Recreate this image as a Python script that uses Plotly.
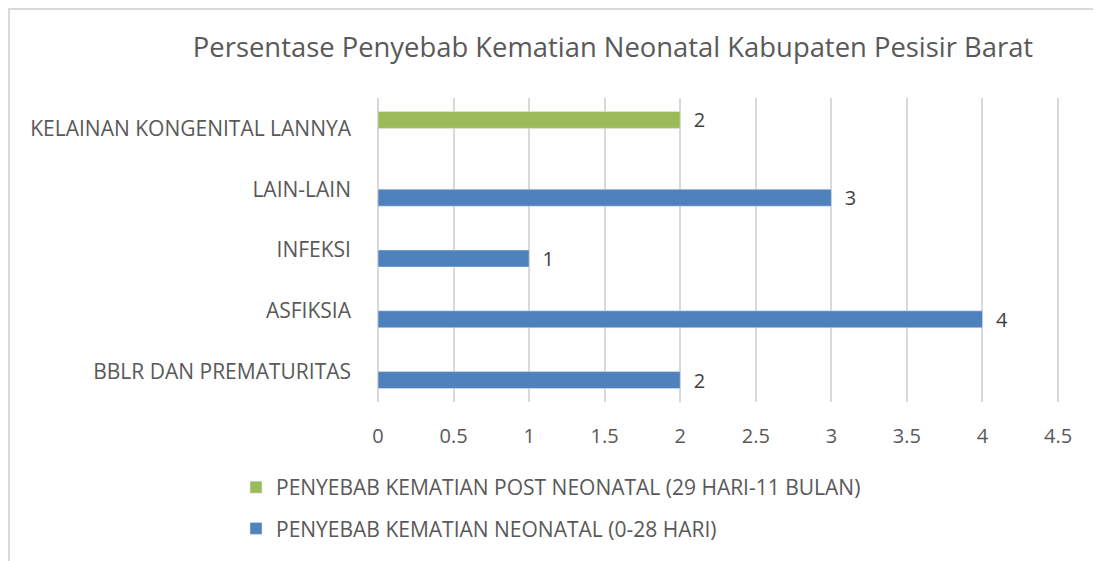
import plotly.graph_objects as go

categories = ["BBLR DAN PREMATURITAS", "ASFIKSIA", "INFEKSI", "LAIN-LAIN", "KELAINAN KONGENITAL LANNYA"]
neonatal = [2, 4, 1, 3, None]
post_neonatal = [None, None, None, None, 2]
series_names = ["PENYEBAB KEMATIAN NEONATAL (0-28 HARI)",
                "PENYEBAB KEMATIAN POST NEONATAL (29 HARI-11 BULAN)"]
x_ticks = [0, 0.5, 1, 1.5, 2, 2.5, 3, 3.5, 4, 4.5]
x_tick_labels = ["0", "0.5", "1", "1.5", "2", "2.5", "3", "3.5", "4", "4.5"]
title_text = "Persentase Penyebab Kematian Neonatal Kabupaten Pesisir Barat"

FONT = "Open Sans"
W, H = 1093, 553          # page body has an 8px margin
ML, MR, MT, MB = 370, 41, 90, 159
PW, PH = W - ML - MR, H - MT - MB

fig = go.Figure()
fig.add_trace(go.Bar(
    y=categories, x=neonatal, orientation="h", name=series_names[0],
    marker=dict(color="#4f81bd"), legendgroup="a", legendrank=2,
    texttemplate="  %{x}", textposition="outside", constraintext="none",
    textfont=dict(family=FONT, size=20, color="#404040"), cliponaxis=False,
))
fig.add_trace(go.Bar(
    y=categories, x=post_neonatal, orientation="h", name=series_names[1],
    marker=dict(color="#9bbb59"), legendgroup="b", legendrank=1,
    texttemplate="  %{x}", textposition="outside", constraintext="none",
    textfont=dict(family=FONT, size=20, color="#404040"), cliponaxis=False,
))

fig.update_layout(
    width=W, height=H,
    paper_bgcolor="white", plot_bgcolor="white",
    margin=dict(l=ML, r=MR, t=MT, b=MB, autoexpand=False),
    barmode="group", bargap=0.44, bargroupgap=0,
    font=dict(family=FONT, color="#595959"),
    title=dict(text=title_text, x=605 / W, xanchor="center", y=1 - 39 / H, yanchor="middle",
               font=dict(family=FONT, size=27.4, color="#595959")),
    xaxis=dict(range=[0, 4.513], tickvals=x_ticks, ticktext=x_tick_labels,
               showgrid=True, gridcolor="#d9d9d9", gridwidth=2,
               zeroline=True, zerolinecolor="#d9d9d9", zerolinewidth=2,
               showline=False, ticks="", ticklabelstandoff=20, automargin=False,
               tickfont=dict(family=FONT, size=20, color="#595959")),
    yaxis=dict(categoryorder="array", categoryarray=categories, showgrid=False,
               zeroline=False, showline=False, ticks="", ticklabelstandoff=26, automargin=False,
               tickfont=dict(family=FONT, size=21, color="#595959")),
    legend=dict(orientation="v", x=(228 - ML) / PW, xanchor="left",
                y=((H - MB) - 459) / PH, yanchor="top",
                traceorder="grouped", tracegroupgap=11,
                font=dict(family=FONT, size=21, color="#595959"),
                bgcolor="rgba(0,0,0,0)"),
    showlegend=True,
)

fig.add_shape(type="rect", xref="paper", yref="paper",
              x0=(1 - ML) / PW, x1=1.5,
              y0=-2, y1=((H - MB) - 1) / PH,
              line=dict(color="#d9d9d9", width=2), fillcolor="rgba(0,0,0,0)", layer="below")

fig.write_html("out.html")
